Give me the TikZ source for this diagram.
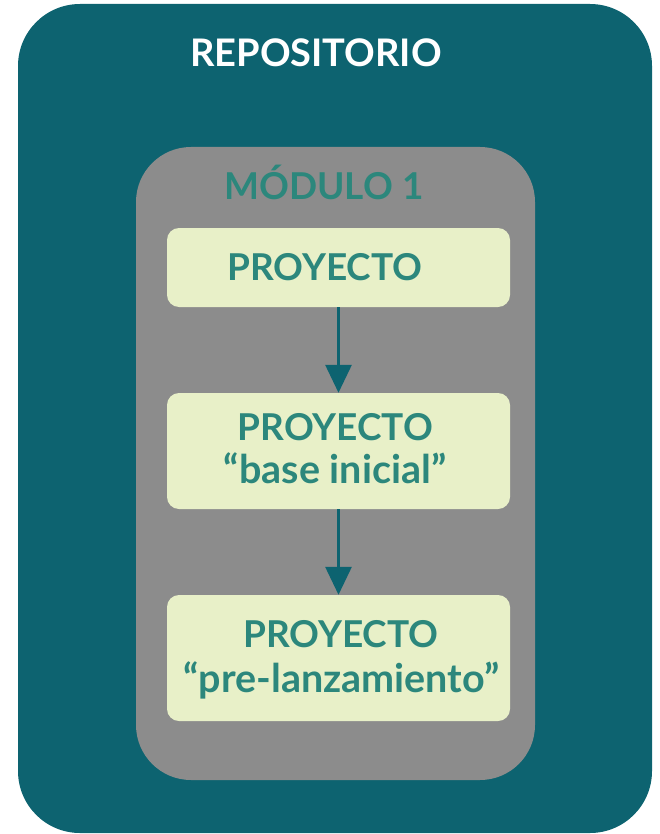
\documentclass[tikz,border=0pt]{standalone}
\usepackage{fontspec}
\setmainfont{Lato}
\usetikzlibrary{arrows.meta}
\definecolor{outerteal}{HTML}{0D6370}
\definecolor{modgray}{HTML}{8C8C8C}
\definecolor{boxfill}{HTML}{E8F0C8}
\definecolor{txteal}{HTML}{2C877C}
\tikzset{
  container/.style={rectangle,inner sep=0pt},
  projbox/.style={fill=boxfill,rounded corners=12pt},
  bigtext/.style={inner sep=0pt,anchor=base,font=\fontsize{37}{43}\selectfont\bfseries,text=txteal},
  lowtext/.style={bigtext,font=\fontsize{39.5}{45}\selectfont\bfseries},
  flowarrow/.style={draw=outerteal,line width=3pt,-{Triangle[length=28pt,width=26pt]}}
}
\begin{document}
\begin{tikzpicture}[x=1pt,y=-1pt]
\useasboundingbox (0,0) rectangle (659,834);
\fill[outerteal,rounded corners=62pt] (18,4) rectangle (652,833);
\fill[modgray,rounded corners=55pt] (136,147) rectangle (535,780);
\fill[projbox] (167,228) rectangle (510,307);
\fill[projbox] (167,393) rectangle (510,509);
\fill[projbox] (167,595) rectangle (510,721);
\node[container,minimum width=343pt,minimum height=79pt] (b1) at (338.5,267.5) {};
\node[container,minimum width=343pt,minimum height=116pt] (b2) at (338.5,451) {};
\node[container,minimum width=343pt,minimum height=126pt] (b3) at (338.5,658) {};
\node[inner sep=0pt,anchor=base,font=\fontsize{38}{44}\selectfont\bfseries,text=white] (repo) at (316,67) {REPOSITORIO};
\node[bigtext] (mod) at (324,200) {MÓDULO 1};
\node[bigtext] (t1) at (325,280) {PROYECTO};
\node[bigtext] (t2a) at (335.5,440) {PROYECTO};
\node[lowtext] (t2b) at (335,483) {“base inicial”};
\node[bigtext] (t3a) at (341,647) {PROYECTO};
\node[lowtext] (t3b) at (341.5,692) {“pre-lanzamiento”};
\draw[flowarrow] (b1.south) -- (b2.north);
\draw[flowarrow] (b2.south) -- (b3.north);
\end{tikzpicture}
\end{document}
